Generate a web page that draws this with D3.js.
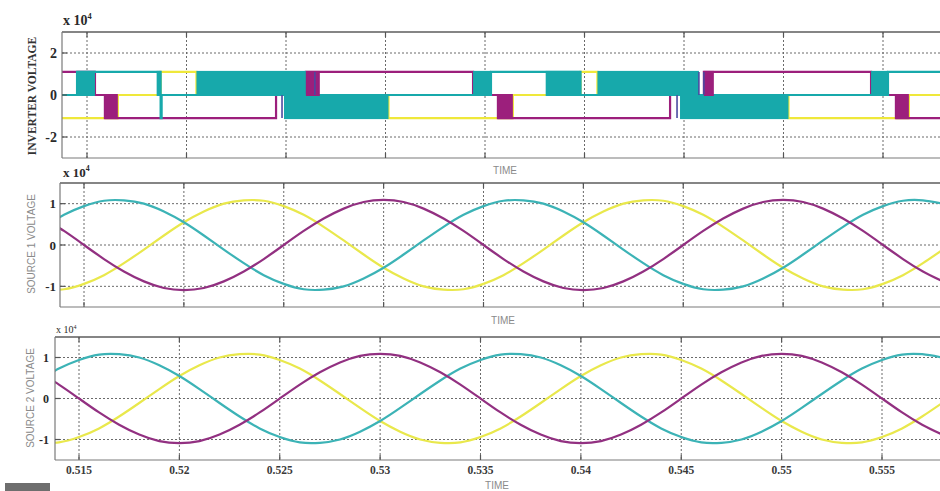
<!DOCTYPE html>
<html>
<head>
<meta charset="utf-8">
<script src="https://cdn.jsdelivr.net/npm/d3@7"></script>
<style>
  body { margin: 0; background: #fff; }
  svg { display: block; }
</style>
</head>
<body>
<div id="chart"></div>
<script>
// ---- data (voltages in units of 1e4 V, time in s) ----
var xTicks = [0.515, 0.52, 0.525, 0.53, 0.535, 0.54, 0.545, 0.55, 0.555];
var xTickLabels = ['0.515', '0.52', '0.525', '0.53', '0.535', '0.54', '0.545', '0.55', '0.555'];

// inverter output: level changes [time, level]
var invTeal = [[0.5137, 0], [0.5145, 1.1], [0.5187, -1.1], [0.51875, 0], [0.5353, 1.1], [0.5398, 0], [0.55525, 1.1]];
var invMagenta = [[0.5137, 1.1], [0.5154, 0], [0.5159, -1.1], [0.5245, 0], [0.526, 1.1], [0.5344, 0], [0.53565, -1.1],
                  [0.5443, 0], [0.546, 1.1], [0.5544, 0], [0.55565, -1.1]];
var invYellow = [[0.5137, -1.1], [0.51655, 0], [0.5187, 1.1], [0.5205, 0], [0.53015, -1.1], [0.5364, 0], [0.5398, 1.1],
                 [0.54065, 0], [0.55025, -1.1], [0.5563, 0]];
// dense switching intervals [start, end, low, high]
var tealBands = [[0.5145, 0.5154, 0, 1.1], [0.5185, 0.5187, 0, 1.1], [0.5205, 0.526, 0, 1.1], [0.5249, 0.53015, -1.1, 0],
                 [0.5344, 0.5353, 0, 1.1], [0.53805, 0.5398, 0, 1.1], [0.54065, 0.54575, 0, 1.1],
                 [0.5448, 0.55025, -1.1, 0], [0.5544, 0.55525, 0, 1.1]];
var magentaBands = [[0.5159, 0.51655, -1.1, 0], [0.526, 0.5267, 0, 1.1], [0.53565, 0.5364, -1.1, 0],
                    [0.546, 0.5465, 0, 1.1], [0.55565, 0.5563, -1.1, 0]];
var blueEdges = [[0.5248, -1.1, 0], [0.52645, 0, 1.1], [0.54465, -1.1, 0], [0.54575, 0, 1.1], [0.546, 0, 1.1]];

// source voltages sampled every 1 ms
var sineTimes = [0.513, 0.514, 0.515, 0.516, 0.517, 0.518, 0.519, 0.52, 0.521, 0.522, 0.523, 0.524, 0.525, 0.526, 0.527,
                 0.528, 0.529, 0.53, 0.531, 0.532, 0.533, 0.534, 0.535, 0.536, 0.537, 0.538, 0.539, 0.54, 0.541, 0.542,
                 0.543, 0.544, 0.545, 0.546, 0.547, 0.548, 0.549, 0.55, 0.551, 0.552, 0.553, 0.554, 0.555, 0.556, 0.557, 0.558];
var src1Teal = [0.44, 0.73, 0.94, 1.07, 1.08, 1.00, 0.81, 0.55, 0.23, -0.11, -0.44, -0.73, -0.94, -1.07, -1.08, -1.00, -0.81, -0.55, -0.23, 0.11,
                0.44, 0.73, 0.94, 1.07, 1.08, 1.00, 0.81, 0.55, 0.23, -0.11, -0.44, -0.73, -0.94, -1.07, -1.08, -1.00, -0.81, -0.55, -0.23, 0.11,
                0.44, 0.73, 0.94, 1.07, 1.08, 1.00];
var src1Yellow = [-1.08, -1.07, -0.94, -0.73, -0.44, -0.11, 0.23, 0.55, 0.81, 1.00, 1.08, 1.07, 0.94, 0.73, 0.44, 0.11, -0.23, -0.55, -0.81, -1.00,
                  -1.08, -1.07, -0.94, -0.73, -0.44, -0.11, 0.23, 0.55, 0.81, 1.00, 1.08, 1.07, 0.94, 0.73, 0.44, 0.11, -0.23, -0.55, -0.81, -1.00,
                  -1.08, -1.07, -0.94, -0.73, -0.44, -0.11];
var src1Magenta = [0.64, 0.34, 0.00, -0.34, -0.64, -0.88, -1.04, -1.09, -1.04, -0.88, -0.64, -0.34, 0.00, 0.34, 0.64, 0.88, 1.04, 1.09, 1.04, 0.88,
                   0.64, 0.34, 0.00, -0.34, -0.64, -0.88, -1.04, -1.09, -1.04, -0.88, -0.64, -0.34, 0.00, 0.34, 0.64, 0.88, 1.04, 1.09, 1.04, 0.88,
                   0.64, 0.34, 0.00, -0.34, -0.64, -0.88];
var src2Teal = [0.44, 0.73, 0.94, 1.07, 1.08, 1.00, 0.81, 0.55, 0.23, -0.11, -0.44, -0.73, -0.94, -1.07, -1.08, -1.00, -0.81, -0.55, -0.23, 0.11,
                0.44, 0.73, 0.94, 1.07, 1.08, 1.00, 0.81, 0.55, 0.23, -0.11, -0.44, -0.73, -0.94, -1.07, -1.08, -1.00, -0.81, -0.55, -0.23, 0.11,
                0.44, 0.73, 0.94, 1.07, 1.08, 1.00];
var src2Yellow = [-1.08, -1.07, -0.94, -0.73, -0.44, -0.11, 0.23, 0.55, 0.81, 1.00, 1.08, 1.07, 0.94, 0.73, 0.44, 0.11, -0.23, -0.55, -0.81, -1.00,
                  -1.08, -1.07, -0.94, -0.73, -0.44, -0.11, 0.23, 0.55, 0.81, 1.00, 1.08, 1.07, 0.94, 0.73, 0.44, 0.11, -0.23, -0.55, -0.81, -1.00,
                  -1.08, -1.07, -0.94, -0.73, -0.44, -0.11];
var src2Magenta = [0.64, 0.34, 0.00, -0.34, -0.64, -0.88, -1.04, -1.09, -1.04, -0.88, -0.64, -0.34, 0.00, 0.34, 0.64, 0.88, 1.04, 1.09, 1.04, 0.88,
                   0.64, 0.34, 0.00, -0.34, -0.64, -0.88, -1.04, -1.09, -1.04, -0.88, -0.64, -0.34, 0.00, 0.34, 0.64, 0.88, 1.04, 1.09, 1.04, 0.88,
                   0.64, 0.34, 0.00, -0.34, -0.64, -0.88];

var teal = '#17a9ab', magenta = '#9c1f7c', yellow = '#efe83a', blue = '#4b4aa0';
var sTeal = '#3cb3b6', sMagenta = '#923081', sYellow = '#e9e84c';

var W = 940, H = 491;
var svg = d3.select('#chart').append('svg')
  .attr('width', W).attr('height', H)
  .style('font-family', '"Liberation Serif", "Times New Roman", serif');

// panel frames (scanned figure: each axes sits slightly differently)
var panels = [
  { left: 62, top: 32, bottom: 158, x0: 87, x1: 883, yDomain: [-3, 3], yTicks: [-2, 0, 2],
    tickSize: 14, tickBold: true, labelX: 57, ylabel: 'INVERTER VOLTAGE', ylabelSerif: true, ylabelX: 32, ylabelY: 96,
    expX: 63, expY: 25, expSize: 14, expBold: true, timeX: 505, timeY: 174 },
  { left: 60, top: 183, bottom: 307, x0: 84, x1: 883, yDomain: [-1.5, 1.5], yTicks: [-1, 0, 1],
    tickSize: 13, tickBold: true, labelX: 56, ylabel: 'SOURCE 1 VOLTAGE', ylabelSerif: false, ylabelX: 31, ylabelY: 244,
    expX: 63, expY: 177, expSize: 13, expBold: true, timeX: 503, timeY: 324 },
  { left: 55, top: 337, bottom: 460, x0: 79, x1: 882, yDomain: [-1.5, 1.5], yTicks: [-1, 0, 1],
    tickSize: 12, tickBold: true, labelX: 49, ylabel: 'SOURCE 2 VOLTAGE', ylabelSerif: false, ylabelX: 30, ylabelY: 398,
    expX: 56, expY: 333, expSize: 10, expBold: false, timeX: 497, timeY: 489 }
];

function setupPanel(p, i) {
  p.x = d3.scaleLinear().domain([0.515, 0.555]).range([p.x0, p.x1]);
  p.y = d3.scaleLinear().domain(p.yDomain).range([p.bottom, p.top]);
  var g = svg.append('g');
  svg.append('clipPath').attr('id', 'clip' + i).append('rect')
    .attr('x', p.left).attr('y', p.top).attr('width', W - p.left).attr('height', p.bottom - p.top);

  // dotted grid
  g.selectAll('line.vg').data(xTicks).enter().append('line')
    .attr('x1', function(d) { return p.x(d); }).attr('x2', function(d) { return p.x(d); })
    .attr('y1', p.top).attr('y2', p.bottom)
    .attr('stroke', '#6a6a6a').attr('stroke-width', 1).attr('stroke-dasharray', '2,2');
  g.selectAll('line.hg').data(p.yTicks).enter().append('line')
    .attr('x1', p.left).attr('x2', W)
    .attr('y1', function(d) { return p.y(d); }).attr('y2', function(d) { return p.y(d); })
    .attr('stroke', '#6a6a6a').attr('stroke-width', 1).attr('stroke-dasharray', '2,2');

  p.plot = svg.append('g').attr('clip-path', 'url(#clip' + i + ')');
  p.frame = svg.append('g');

  // frame and inward ticks
  p.frame.append('line').attr('x1', p.left).attr('x2', W).attr('y1', p.top).attr('y2', p.top)
    .attr('stroke', '#5c5c5c').attr('stroke-width', 1.3);
  p.frame.append('line').attr('x1', p.left).attr('x2', W).attr('y1', p.bottom).attr('y2', p.bottom)
    .attr('stroke', '#7a7a7a').attr('stroke-width', 1.2);
  p.frame.append('line').attr('x1', p.left).attr('x2', p.left).attr('y1', p.top).attr('y2', p.bottom)
    .attr('stroke', '#7a7a7a').attr('stroke-width', 1.2);
  p.frame.selectAll('line.tt').data(xTicks).enter().append('line')
    .attr('x1', function(d) { return p.x(d); }).attr('x2', function(d) { return p.x(d); })
    .attr('y1', p.top).attr('y2', p.top + 5).attr('stroke', '#555').attr('stroke-width', 1.2);
  p.frame.selectAll('line.bt').data(xTicks).enter().append('line')
    .attr('x1', function(d) { return p.x(d); }).attr('x2', function(d) { return p.x(d); })
    .attr('y1', p.bottom).attr('y2', p.bottom - 5).attr('stroke', '#555').attr('stroke-width', 1.2);
  p.frame.selectAll('line.lt').data(p.yTicks).enter().append('line')
    .attr('x1', p.left).attr('x2', p.left + 5)
    .attr('y1', function(d) { return p.y(d); }).attr('y2', function(d) { return p.y(d); })
    .attr('stroke', '#555').attr('stroke-width', 1.2);

  // y tick labels
  p.frame.selectAll('text.yt').data(p.yTicks).enter().append('text')
    .attr('x', p.labelX).attr('y', function(d) { return p.y(d); })
    .attr('dy', '0.35em').attr('text-anchor', 'end')
    .attr('font-size', p.tickSize).attr('font-weight', p.tickBold ? 'bold' : 'normal')
    .attr('fill', '#2a2a2a')
    .text(function(d) { return String(d); });

  // x 10^4 multiplier
  var ex = p.frame.append('text').attr('x', p.expX).attr('y', p.expY)
    .attr('font-size', p.expSize).attr('font-weight', p.expBold ? 'bold' : 'normal').attr('fill', '#2a2a2a');
  ex.append('tspan').text('x 10');
  ex.append('tspan').attr('dy', -p.expSize * 0.45).attr('font-size', p.expSize * 0.6).text('4');

  // axis titles
  p.frame.append('text')
    .attr('transform', 'translate(' + p.ylabelX + ',' + p.ylabelY + ') rotate(-90)')
    .attr('text-anchor', 'middle').attr('dy', '0.35em')
    .attr('font-family', p.ylabelSerif ? '"Liberation Serif", serif' : '"Liberation Sans", Arial, sans-serif')
    .attr('font-size', p.ylabelSerif ? 11.5 : 10)
    .attr('font-weight', p.ylabelSerif ? 'bold' : 'normal')
    .attr('fill', p.ylabelSerif ? '#333' : '#8a8a8a')
    .text(p.ylabel);
  p.frame.append('text')
    .attr('x', p.timeX).attr('y', p.timeY).attr('text-anchor', 'middle')
    .attr('font-family', '"Liberation Sans", Arial, sans-serif').attr('font-size', 10)
    .attr('fill', '#8a8a8a').text('TIME');
}

panels.forEach(setupPanel);

// ---- inverter voltage panel ----
var P0 = panels[0];
var stepLine = d3.line()
  .x(function(d) { return P0.x(d[0]); })
  .y(function(d) { return P0.y(d[1]); })
  .curve(d3.curveStepAfter);
function withEnd(steps) {
  return steps.concat([[0.5585, steps[steps.length - 1][1]]]);
}
[[invYellow, yellow], [invMagenta, magenta], [invTeal, teal]].forEach(function(s) {
  P0.plot.append('path').datum(withEnd(s[0]))
    .attr('d', stepLine).attr('fill', 'none')
    .attr('stroke', s[1]).attr('stroke-width', 2.2);
});
function drawBands(data, color) {
  P0.plot.selectAll(null).data(data).enter().append('rect')
    .attr('x', function(d) { return P0.x(d[0]); })
    .attr('width', function(d) { return P0.x(d[1]) - P0.x(d[0]); })
    .attr('y', function(d) { return P0.y(d[3]) - 1; })
    .attr('height', function(d) { return P0.y(d[2]) - P0.y(d[3]) + 2; })
    .attr('fill', color);
}
drawBands(tealBands, teal);
drawBands(magentaBands, magenta);
P0.plot.selectAll(null).data(blueEdges).enter().append('line')
  .attr('x1', function(d) { return P0.x(d[0]); }).attr('x2', function(d) { return P0.x(d[0]); })
  .attr('y1', function(d) { return P0.y(d[2]); }).attr('y2', function(d) { return P0.y(d[1]); })
  .attr('stroke', blue).attr('stroke-width', 1.6);

// ---- source voltage panels ----
function drawSines(p, series) {
  var line = d3.line()
    .x(function(d, i) { return p.x(sineTimes[i]); })
    .y(function(d) { return p.y(d); })
    .curve(d3.curveNatural);
  series.forEach(function(s) {
    p.plot.append('path').datum(s[0])
      .attr('d', line).attr('fill', 'none')
      .attr('stroke', s[1]).attr('stroke-width', 2.2);
  });
}
drawSines(panels[1], [[src1Yellow, sYellow], [src1Teal, sTeal], [src1Magenta, sMagenta]]);
drawSines(panels[2], [[src2Yellow, sYellow], [src2Teal, sTeal], [src2Magenta, sMagenta]]);

// x tick labels on the bottom panel only
var P2 = panels[2];
svg.selectAll('text.xt').data(xTicks).enter().append('text')
  .attr('x', function(d) { return P2.x(d); }).attr('y', 474)
  .attr('text-anchor', 'middle').attr('font-size', 11.5).attr('font-weight', 'bold')
  .attr('fill', '#3a3a3a')
  .text(function(d, i) { return xTickLabels[i]; });

// grey tab in the bottom-left corner of the scan
svg.append('rect').attr('x', 5).attr('y', 483).attr('width', 45).attr('height', 8).attr('fill', '#6e6e6e');
</script>
</body>
</html>
